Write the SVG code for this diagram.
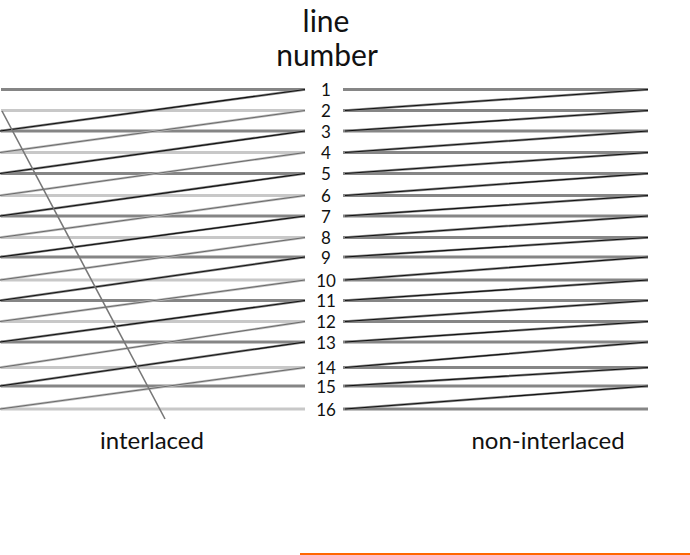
<svg xmlns="http://www.w3.org/2000/svg" width="690" height="555" viewBox="0 0 690 555">
<style>
  .t{font-family:Lato,"Liberation Sans",sans-serif;fill:#111}
  .num{font-size:17px;text-anchor:middle}
  .odd{stroke:#858585;stroke-width:3}
  .even{stroke:#c8c8c8;stroke-width:3}
  .bar{stroke:#868686;stroke-width:3.2}
  .uo{stroke:#8a8a8a;stroke-width:2.4;fill:none}
  .ue{stroke:#c0c0c0;stroke-width:2.4;fill:none}
  .bk{stroke:#111;stroke-width:1.1;fill:none}
  .gk{stroke:#6a6a6a;stroke-width:1;fill:none}
</style>
<rect width="690" height="555" fill="#fff"/>
<g id="title">
  <text class="t" x="326" y="32" font-size="30" text-anchor="middle">line</text>
  <text class="t" x="327" y="66" font-size="30" text-anchor="middle">number</text>
</g>
<g id="left-bars">
  <line class="odd" x1="1" y1="89.5" x2="305" y2="89.5"/>
  <line class="even" x1="1" y1="110.5" x2="305" y2="110.5"/>
  <line class="odd" x1="1" y1="131" x2="305" y2="131"/>
  <line class="even" x1="1" y1="152.5" x2="305" y2="152.5"/>
  <line class="odd" x1="1" y1="173.5" x2="305" y2="173.5"/>
  <line class="even" x1="1" y1="195.5" x2="305" y2="195.5"/>
  <line class="odd" x1="1" y1="216" x2="305" y2="216"/>
  <line class="even" x1="1" y1="237.5" x2="305" y2="237.5"/>
  <line class="odd" x1="1" y1="257" x2="305" y2="257"/>
  <line class="even" x1="1" y1="280" x2="305" y2="280"/>
  <line class="odd" x1="1" y1="300.5" x2="305" y2="300.5"/>
  <line class="even" x1="1" y1="321.5" x2="305" y2="321.5"/>
  <line class="odd" x1="1" y1="342" x2="305" y2="342"/>
  <line class="even" x1="1" y1="367.5" x2="305" y2="367.5"/>
  <line class="odd" x1="1" y1="386" x2="305" y2="386"/>
  <line class="even" x1="1" y1="409" x2="305" y2="409"/>
</g>
<g id="right-bars">
  <line class="bar" x1="343" y1="89.5" x2="648" y2="89.5"/>
  <line class="bar" x1="343" y1="110.5" x2="648" y2="110.5"/>
  <line class="bar" x1="343" y1="131" x2="648" y2="131"/>
  <line class="bar" x1="343" y1="152.5" x2="648" y2="152.5"/>
  <line class="bar" x1="343" y1="173.5" x2="648" y2="173.5"/>
  <line class="bar" x1="343" y1="195.5" x2="648" y2="195.5"/>
  <line class="bar" x1="343" y1="216" x2="648" y2="216"/>
  <line class="bar" x1="343" y1="237.5" x2="648" y2="237.5"/>
  <line class="bar" x1="343" y1="257" x2="648" y2="257"/>
  <line class="bar" x1="343" y1="280" x2="648" y2="280"/>
  <line class="bar" x1="343" y1="300.5" x2="648" y2="300.5"/>
  <line class="bar" x1="343" y1="321.5" x2="648" y2="321.5"/>
  <line class="bar" x1="343" y1="342" x2="648" y2="342"/>
  <line class="bar" x1="343" y1="367.5" x2="648" y2="367.5"/>
  <line class="bar" x1="343" y1="386" x2="648" y2="386"/>
  <line class="bar" x1="343" y1="409" x2="648" y2="409"/>
</g>
<g id="connectors">
  <path class="uo" d="M305 89.5L0 131M305 131L0 173.5M305 173.5L0 216M305 216L0 257M305 257L0 300.5M305 300.5L0 342M305 342L0 386"/>
  <path class="bk" d="M305 89.5L0 131M305 131L0 173.5M305 173.5L0 216M305 216L0 257M305 257L0 300.5M305 300.5L0 342M305 342L0 386"/>
  <path class="ue" d="M305 110.5L0 152.5M305 152.5L0 195.5M305 195.5L0 237.5M305 237.5L0 280M305 280L0 321.5M305 321.5L0 367.5M305 367.5L0 409"/>
  <path class="gk" d="M305 110.5L0 152.5M305 152.5L0 195.5M305 195.5L0 237.5M305 237.5L0 280M305 280L0 321.5M305 321.5L0 367.5M305 367.5L0 409"/>
  <line x1="2" y1="111" x2="165" y2="419" stroke="#777" stroke-width="1.6"/>
  <path class="uo" d="M648 89.5L345 110.5M648 110.5L345 131M648 131L345 152.5M648 152.5L345 173.5M648 173.5L345 195.5M648 195.5L345 216M648 216L345 237.5M648 237.5L345 257M648 257L345 280M648 280L345 300.5M648 300.5L345 321.5M648 321.5L345 342M648 342L345 367.5M648 367.5L345 386M648 386L345 409"/>
  <path class="bk" d="M648 89.5L345 110.5M648 110.5L345 131M648 131L345 152.5M648 152.5L345 173.5M648 173.5L345 195.5M648 195.5L345 216M648 216L345 237.5M648 237.5L345 257M648 257L345 280M648 280L345 300.5M648 300.5L345 321.5M648 321.5L345 342M648 342L345 367.5M648 367.5L345 386M648 386L345 409"/>
</g>
<g id="numbers" class="t num">
  <text x="326" y="96">1</text>
  <text x="326" y="117">2</text>
  <text x="326" y="137.5">3</text>
  <text x="326" y="159">4</text>
  <text x="326" y="180">5</text>
  <text x="326" y="202">6</text>
  <text x="326" y="222.5">7</text>
  <text x="326" y="244">8</text>
  <text x="326" y="263.5">9</text>
  <text x="326" y="286.5">10</text>
  <text x="326" y="307">11</text>
  <text x="326" y="328">12</text>
  <text x="326" y="348.5">13</text>
  <text x="326" y="373.5">14</text>
  <text x="326" y="393">15</text>
  <text x="326" y="415.5">16</text>
</g>
<g id="labels">
  <text class="t" x="152" y="449" font-size="24" text-anchor="middle">interlaced</text>
  <text class="t" x="548" y="449" font-size="24" text-anchor="middle">non-interlaced</text>
</g>
<line id="rule" x1="300" y1="554" x2="690" y2="554" stroke="#ff6600" stroke-width="2"/>
</svg>
